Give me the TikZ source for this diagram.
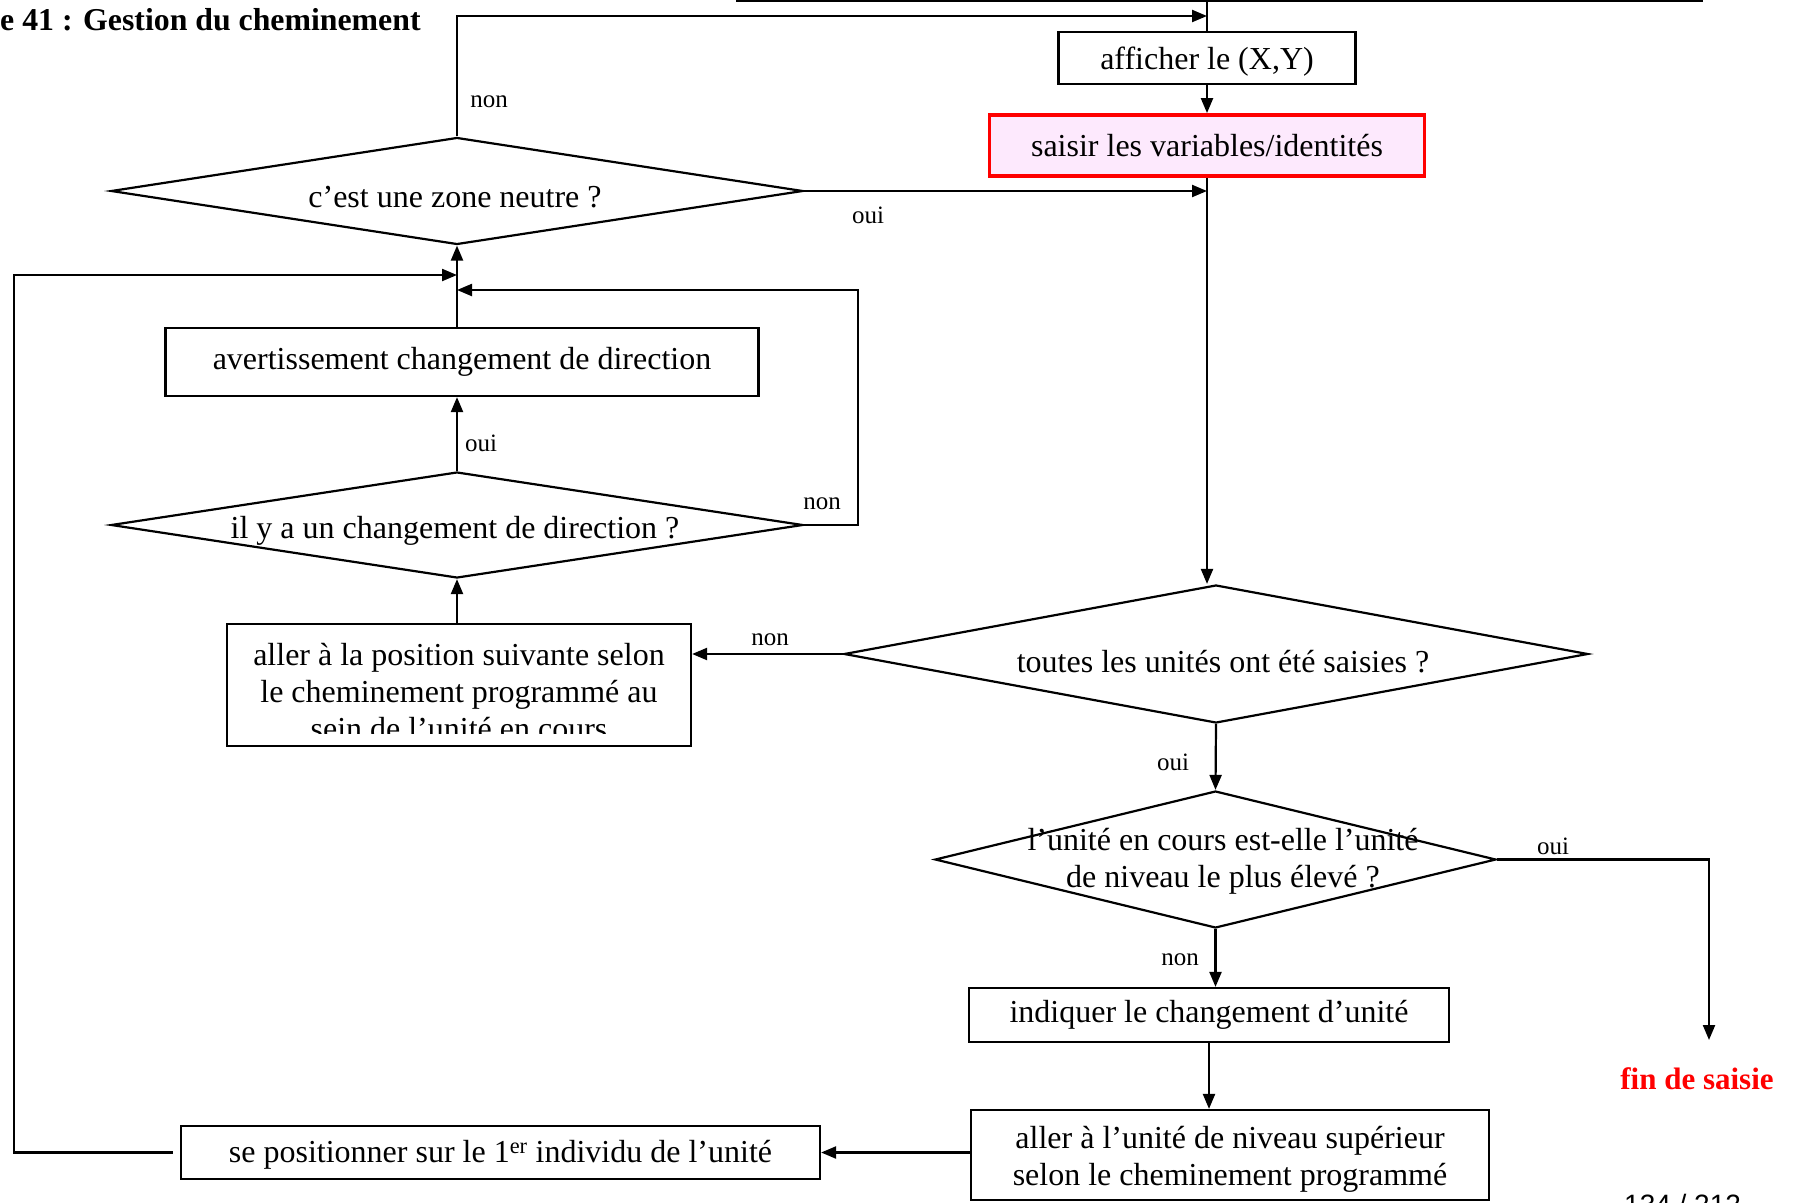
\documentclass[tikz,border=0pt]{standalone}
\usepackage{fontspec}
\setmainfont{Liberation Serif}
\newfontfamily\sansf{Liberation Sans}
\usetikzlibrary{shapes.geometric,arrows.meta,calc}
\definecolor{pinkf}{RGB}{253,233,253}
\begin{document}
\begin{tikzpicture}[x=1pt,y=-1pt]
\tikzset{
 boxn/.style={draw,line width=2.2pt,inner sep=0pt,font=\fontsize{32}{37}\selectfont,align=center},
 dia/.style={draw,diamond,line width=2.2pt,inner sep=0pt},
 txt/.style={font=\fontsize{32}{37}\selectfont,align=center,inner sep=0pt},
 lab/.style={font=\fontsize{25}{28}\selectfont,inner sep=0pt},
 arr/.style={line width=2.2pt,-{Triangle[length=15pt,width=12pt]}},
 ln/.style={line width=2.2pt},
}
\useasboundingbox (0,0) rectangle (1796,1202);
\begin{scope}
\clip (0,0) rectangle (1796,1202);
% title
\node[font=\bfseries\fontsize{31.8}{36}\selectfont,anchor=base west,inner sep=0pt] (title) at (0,30) {e 41 : Gestion du cheminement};
% nodes
\node[boxn,minimum width=297pt,minimum height=52pt,text height=26pt,text depth=4pt] (aff) at (1207,58) {afficher le (X,Y)};
\node[boxn,draw=red,line width=3.8pt,fill=pinkf,minimum width=435pt,minimum height=61pt] (sai) at (1207,145.5) {saisir les variables/identités};
\node[dia,minimum width=692pt,minimum height=107pt] (d1) at (457,191) {};
\node[txt] (d1t) at (455,197) {c’est une zone neutre ?};
\node[boxn,minimum width=593pt,minimum height=68pt] (av) at (462,362) {avertissement changement de direction};
\node[dia,minimum width=692pt,minimum height=106pt] (d2) at (457,525) {};
\node[txt] (d2t) at (455,531) {il y a un changement de direction ?};
\node[boxn,minimum width=464pt,minimum height=122pt] (al1) at (459,685) {};
\begin{scope}
\clip (227,624) rectangle (691,733);
\node[txt] (al1t) at (459,692) {aller à la position suivante selon\\le cheminement programmé au\\sein de l’unité en cours};
\end{scope}
\node[dia,minimum width=744pt,minimum height=138pt] (d3) at (1216,654) {};
\node[txt] (d3t) at (1223,662) {toutes les unités ont été saisies ?};
\node[dia,minimum width=561pt,minimum height=137pt] (d4) at (1215.5,859.5) {};
\node[txt] (d4t) at (1223,861) {l’unité en cours est-elle l’unité\\de niveau le plus élevé ?};
\node[boxn,minimum width=480pt,minimum height=54pt] (ind) at (1209,1015) {indiquer le changement d’unité};
\node[boxn,minimum width=518pt,minimum height=90pt] (al2) at (1230,1155) {};
\begin{scope}
\clip (971,1110) rectangle (1489,1191);
\node[txt] (al2t) at (1230,1159) {aller à l’unité de niveau supérieur\\selon le cheminement programmé};
\end{scope}
\node[boxn,minimum width=639pt,minimum height=53pt,text height=25pt,text depth=5pt] (sp) at (500.5,1152.5) {se positionner sur le 1\textsuperscript{er} individu de l’unité};
\node[font=\bfseries\fontsize{31}{36}\selectfont,text=red,inner sep=0pt] (fin) at (1697,1079) {fin de saisie};
\node[font=\sansf\fontsize{28}{32}\selectfont,anchor=base west,inner sep=0pt] (pg) at (1624,1214) {134 / 212};
% coordinates
\coordinate (tl) at (736,1);
\coordinate (tr) at (1703,1);
\coordinate (ttop) at (1207,0);
\coordinate (j1) at (1207,16);
\coordinate (j2) at (1207,191);
\coordinate (j3) at (457,275);
\coordinate (j4) at (457,290);
\coordinate (lx) at (14,275);
\coordinate (rx) at (858,290);
\coordinate (fx) at (1709,1040);
% connectors
\draw[ln] (tl) -- (tr);
\draw[ln] (ttop) -- (aff.north);
\draw[arr] (aff.south) -- (sai.north);
\draw[arr] (d1.north) |- (j1);
\draw[arr] (d1.east) -- (j2);
\draw[arr] (sai.south) -- (sai.south |- d3.north);
\draw[arr] (av.north -| d1.south) -- (d1.south);
\draw[arr] ($(sp.west)+(-7,0)$) -| (lx) -- (j3);
\draw[arr] (d2.east) -| (rx) -- (j4);
\draw[arr] (d2.north) -- (d2.north |- av.south);
\draw[arr] (al1.north -| d2.south) -- (d2.south);
\draw[arr] (d3.west) -- (d3.west -| al1.east);
\draw[arr] (d3.south) -- (d4.north);
\draw[arr] (d4.east) -| (fx);
\draw[arr] (d4.south) -- (d4.south |- ind.north);
\draw[arr] (ind.south) -- (ind.south |- al2.north);
\draw[arr] (al2.west |- sp.east) -- (sp.east);
% labels
\node[lab] (l1) at (489,102) {non};
\node[lab] (l2) at (868,215) {oui};
\node[lab] (l3) at (481,443) {oui};
\node[lab] (l4) at (822,504) {non};
\node[lab] (l5) at (770,640) {non};
\node[lab] (l6) at (1173,762) {oui};
\node[lab] (l7) at (1553,846) {oui};
\node[lab] (l8) at (1180,960) {non};
\end{scope}
\end{tikzpicture}
\end{document}
